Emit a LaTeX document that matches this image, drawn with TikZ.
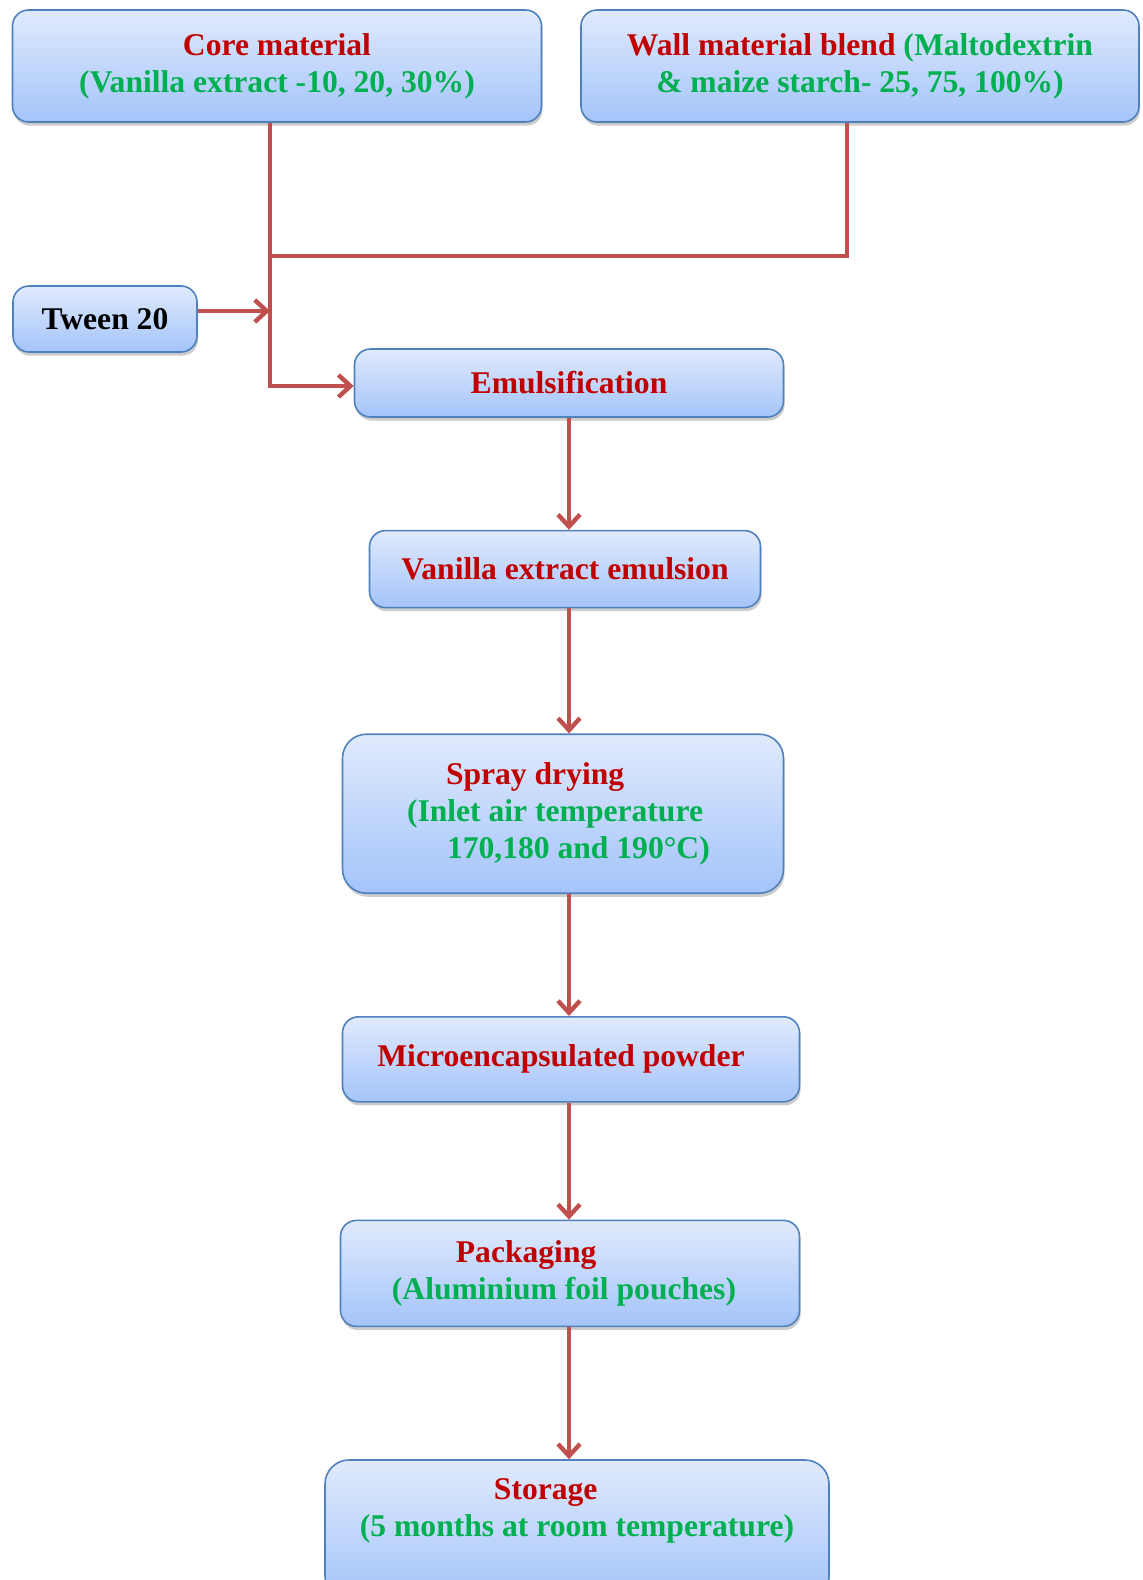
\documentclass[tikz,border=0pt]{standalone}
\usepackage{fontspec}
\setmainfont{Liberation Serif}
\usepackage{xcolor}
\usepackage{tikz}
\usetikzlibrary{shapes,arrows.meta,positioning,shadows}
\definecolor{boxtop}{RGB}{224,234,252}
\definecolor{boxbottom}{RGB}{164,196,250}
\definecolor{boxedge}{RGB}{79,129,189}
\definecolor{linered}{RGB}{192,80,77}
\definecolor{textred}{RGB}{192,0,0}
\definecolor{textgreen}{RGB}{0,176,80}
\tikzstyle{block} = [rectangle, draw=boxedge, line width=0.8pt, top color=boxtop, bottom color=boxbottom,
    rounded corners=8pt, drop shadow={shadow xshift=0.6pt, shadow yshift=-1.8pt, opacity=0.4},
    font=\fontsize{15.8}{18.5}\selectfont\bfseries, text=textgreen, align=center, inner sep=2pt]
\tikzstyle{line} = [draw=linered, line width=2.2pt, -{Straight Barb[length=6pt,width=11pt]}]

\begin{document}
\begin{tikzpicture}[node distance=2.5cm, auto]
    \useasboundingbox (0,0) rectangle (571pt,-790pt);
    % Nodes
    \node [block, minimum width=264.5pt, minimum height=56pt] (core) at (138.5pt,-33pt)
        {\textcolor{textred}{Core material}\\(Vanilla extract -10, 20, 30\%)};
    \node [block, minimum width=279pt, minimum height=56pt] (wall) at (430pt,-33pt)
        {\textcolor{textred}{Wall material blend} (Maltodextrin\\\& maize starch- 25, 75, 100\%)};
    \node [block, text=black, minimum width=92pt, minimum height=33pt] (tween) at (52.5pt,-159.5pt) {Tween 20};
    \node [block, text=textred, minimum width=214.5pt, minimum height=34pt] (emul) at (284.5pt,-191.5pt) {Emulsification};
    \node [block, text=textred, minimum width=195.5pt, minimum height=38.5pt, below=56pt of emul, xshift=-2pt] (emulsion)
        {Vanilla extract emulsion};
    \node [block, rounded corners=12pt, align=left, minimum width=220.5pt, minimum height=79.5pt, below=62.5pt of emulsion, xshift=-1pt] (spray)
        {\hspace*{19.5pt}\textcolor{textred}{Spray drying}\\(Inlet air temperature\rule{8pt}{0pt}\\\hspace*{20pt}170,180 and 190°C)};
    \node [block, text=textred, minimum width=228.5pt, minimum height=42.5pt, below=61pt of spray, xshift=4pt] (powder)
        {Microencapsulated powder\hspace*{10pt}};
    \node [block, align=left, minimum width=229.5pt, minimum height=53pt, below=58.5pt of powder, xshift=-0.5pt] (pack)
        {\hspace*{32pt}\textcolor{textred}{Packaging}\\(Aluminium foil pouches)\rule{6pt}{0pt}};
    \node [block, rounded corners=12pt, align=left, minimum width=252pt, inner ysep=0pt, text height=38pt, text depth=32pt,
        below=66pt of pack, xshift=3.5pt] (storage)
        {\hspace*{67pt}\textcolor{textred}{Storage}\\(5 months at room temperature)};

    % Edges
    \coordinate (trunk) at ([xshift=-3.5pt]core.south);
    \coordinate (join) at ([yshift=-66.5pt]trunk);
    \path [line] (trunk) |- ([yshift=-1.5pt]emul.west);
    \path [line, -] ([xshift=-6.5pt]wall.south) |- (join);
    \path [line] ([yshift=4pt]tween.east) -- ([yshift=4pt]tween.east -| trunk);
    \path [line] (emul.south) -- (emulsion.north -| emul);
    \path [line] (emulsion.south -| emul) -- (spray.north -| emul);
    \path [line] (spray.south -| emul) -- (powder.north -| emul);
    \path [line] (powder.south -| emul) -- (pack.north -| emul);
    \path [line] (pack.south -| emul) -- (storage.north -| emul);
\end{tikzpicture}
\end{document}
